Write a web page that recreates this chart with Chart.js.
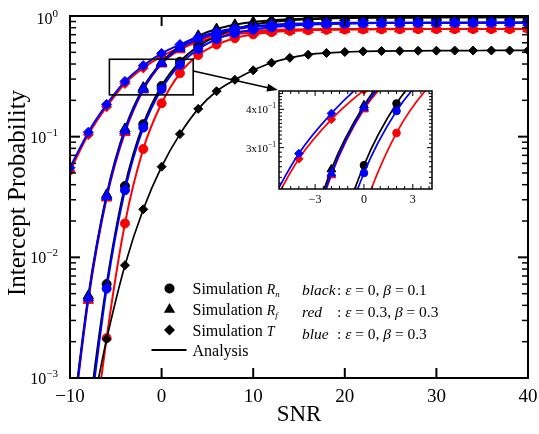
<!DOCTYPE html>
<html>
<head>
<meta charset="utf-8">
<script src="https://cdn.jsdelivr.net/npm/chart.js@4.4.1/dist/chart.umd.min.js"></script>
<style>
  html, body { margin: 0; padding: 0; background: #fff; }
  #wrap { position: relative; width: 539px; height: 434px; }
  #wrap canvas { position: absolute; left: 0; top: 0; }
</style>
</head>
<body>
<div id="wrap">
  <canvas id="main" width="539" height="434"></canvas>
  <canvas id="inset" width="539" height="434"></canvas>
</div>
<script>
// SNR grid (dB)
const snr = [-10, -8, -6, -4, -2, 0, 2, 4, 6, 8, 10, 12, 14, 16, 18, 20, 22, 24, 26, 28, 30, 32, 34, 36, 38, 40];

// Intercept probability of R_n (circles)
const blackRn = [0.00002, 0.00045, 0.0060, 0.039, 0.127, 0.263, 0.418, 0.56, 0.685, 0.78, 0.845, 0.89, 0.92, 0.94, 0.953, 0.962, 0.967, 0.97, 0.972, 0.973, 0.974, 0.975, 0.975, 0.976, 0.976, 0.976];
const redRn   = [0.000005, 0.00013, 0.00214, 0.0191, 0.079, 0.189, 0.335, 0.475, 0.58, 0.655, 0.705, 0.735, 0.752, 0.762, 0.768, 0.772, 0.775, 0.777, 0.778, 0.779, 0.78, 0.78, 0.781, 0.781, 0.781, 0.782];
const blueRn  = [0.00002, 0.00037, 0.0055, 0.036, 0.119, 0.248, 0.395, 0.53, 0.645, 0.72, 0.77, 0.805, 0.83, 0.846, 0.857, 0.864, 0.869, 0.873, 0.875, 0.877, 0.878, 0.879, 0.88, 0.88, 0.881, 0.881];

// Intercept probability of R_f (triangles)
const blackRf = [0.0003, 0.0048, 0.033, 0.116, 0.255, 0.412, 0.56, 0.685, 0.78, 0.845, 0.89, 0.92, 0.94, 0.953, 0.962, 0.967, 0.97, 0.972, 0.973, 0.974, 0.975, 0.975, 0.976, 0.976, 0.976, 0.976];
const redRf   = [0.00027, 0.0044, 0.031, 0.108, 0.244, 0.40, 0.525, 0.61, 0.665, 0.705, 0.73, 0.748, 0.76, 0.767, 0.772, 0.775, 0.777, 0.779, 0.78, 0.78, 0.781, 0.781, 0.782, 0.782, 0.782, 0.782];
const blueRf  = [0.00028, 0.0046, 0.032, 0.112, 0.247, 0.405, 0.54, 0.645, 0.72, 0.775, 0.81, 0.835, 0.851, 0.861, 0.868, 0.872, 0.875, 0.877, 0.878, 0.879, 0.88, 0.88, 0.881, 0.881, 0.881, 0.881];

// Intercept probability of T (diamonds)
const blackT = [0.00015, 0.0004, 0.0021, 0.0086, 0.025, 0.0564, 0.105, 0.17, 0.238, 0.296, 0.355, 0.41, 0.45, 0.478, 0.494, 0.503, 0.509, 0.512, 0.514, 0.515, 0.516, 0.517, 0.517, 0.518, 0.518, 0.518];
const redT   = [0.052, 0.104, 0.177, 0.276, 0.371, 0.462, 0.55, 0.63, 0.695, 0.735, 0.756, 0.767, 0.773, 0.777, 0.779, 0.78, 0.781, 0.781, 0.782, 0.782, 0.782, 0.782, 0.782, 0.782, 0.782, 0.782];
const blueT  = [0.0553, 0.109, 0.185, 0.287, 0.388, 0.49, 0.58, 0.666, 0.738, 0.79, 0.825, 0.848, 0.862, 0.87, 0.875, 0.878, 0.879, 0.88, 0.88, 0.881, 0.881, 0.881, 0.881, 0.882, 0.882, 0.882];

// Axis ticks
const xTicks = [-10, 0, 10, 20, 30, 40];
const yExponents = [-3, -2, -1, 0];
const insetXTicks = [-3, 0, 3];
const insetYTicks = [0.3, 0.4];
const insetYLabels = ['3x10', '4x10'];

// Legend texts
const simLabels = [['Simulation ', 'R', 'n', 'circle'], ['Simulation ', 'R', 'f', 'triangle'], ['Simulation ', 'T', '', 'rectRot']];
const paramLabels = [
  ['black', ': ', 'ε', ' = 0, ', 'β', ' = 0.1'],
  ['red', ': ', 'ε', ' = 0.3, ', 'β', ' = 0.3'],
  ['blue', ': ', 'ε', ' = 0, ', 'β', ' = 0.3']
];

const BLACK = '#000000', RED = '#ff0000', BLUE = '#0000ff';
const SERIF = '"Liberation Serif", "Times New Roman", serif';
const font = (size, italic) => (italic ? 'italic ' : '') + size + 'px ' + SERIF;

function lineSet(values, color, style, radius, width) {
  return {
    data: snr.map((x, i) => ({ x, y: values[i] })),
    borderColor: color,
    backgroundColor: color,
    pointStyle: style,
    pointRadius: radius,
    pointHoverRadius: radius,
    pointBorderWidth: 1,
    borderWidth: width,
    cubicInterpolationMode: 'monotone',
    fill: false
  };
}

function buildSets(scale) {
  const c = 4.5 * scale, t = 6 * scale, d = 5 * scale, w = 2 * scale;
  // earlier entries are painted on top
  return [
    lineSet(blueT, BLUE, 'rectRot', d, w),
    lineSet(blueRf, BLUE, 'triangle', t, w),
    lineSet(blueRn, BLUE, 'circle', c, w),
    lineSet(blackRf, BLACK, 'triangle', t, w),
    lineSet(blackRn, BLACK, 'circle', c, w),
    lineSet(blackT, BLACK, 'rectRot', d * 0.9, w * 0.85),
    lineSet(redT, RED, 'rectRot', d, w),
    lineSet(redRf, RED, 'triangle', t, w),
    lineSet(redRn, RED, 'circle', c, w)
  ];
}

function seg(ctx, x1, y1, x2, y2) {
  ctx.beginPath(); ctx.moveTo(x1, y1); ctx.lineTo(x2, y2); ctx.stroke();
}

function runs(ctx, parts, x, y) {
  for (const [t, s, it, dy] of parts) {
    ctx.font = font(s, it);
    ctx.fillText(t, x, y + (dy || 0));
    x += ctx.measureText(t).width;
  }
  return x;
}
function runsWidth(ctx, parts) {
  let w = 0;
  for (const [t, s, it] of parts) { ctx.font = font(s, it); w += ctx.measureText(t).width; }
  return w;
}

function marker(ctx, style, x, y, r) {
  ctx.beginPath();
  if (style === 'circle') {
    ctx.arc(x, y, r, 0, Math.PI * 2);
  } else if (style === 'triangle') {
    for (let k = 0; k < 3; k++) {
      const a = k * 2 * Math.PI / 3;
      const px = x + Math.sin(a) * r, py = y - Math.cos(a) * r;
      k ? ctx.lineTo(px, py) : ctx.moveTo(px, py);
    }
    ctx.closePath();
  } else {
    ctx.moveTo(x, y - r); ctx.lineTo(x + r, y); ctx.lineTo(x, y + r); ctx.lineTo(x - r, y); ctx.closePath();
  }
  ctx.fill();
}

const mainDecor = {
  id: 'mainDecor',
  afterDraw(chart) {
    const { ctx, chartArea: a, scales: { x, y } } = chart;
    ctx.save();
    ctx.strokeStyle = '#000'; ctx.fillStyle = '#000';

    // zoom window and pointer to the inset
    const bx1 = x.getPixelForValue(-5.7), bx2 = x.getPixelForValue(3.45);
    const by1 = y.getPixelForValue(0.438), by2 = y.getPixelForValue(0.222);
    ctx.lineWidth = 1.6;
    ctx.strokeRect(bx1, by1, bx2 - bx1, by2 - by1);
    const sx = bx2, sy = y.getPixelForValue(0.35), ex = 278, ey = 90;
    const ang = Math.atan2(ey - sy, ex - sx);
    seg(ctx, sx, sy, ex - Math.cos(ang) * 8, ey - Math.sin(ang) * 8);
    ctx.beginPath();
    ctx.moveTo(ex, ey);
    ctx.lineTo(ex - Math.cos(ang) * 11 - Math.sin(ang) * 4, ey - Math.sin(ang) * 11 + Math.cos(ang) * 4);
    ctx.lineTo(ex - Math.cos(ang) * 11 + Math.sin(ang) * 4, ey - Math.sin(ang) * 11 - Math.cos(ang) * 4);
    ctx.closePath(); ctx.fill();

    // frame
    ctx.lineWidth = 2;
    ctx.strokeRect(a.left, a.top, a.right - a.left, a.bottom - a.top);

    // x ticks (inward, bottom and top)
    ctx.lineWidth = 2;
    xTicks.forEach(v => {
      const px = x.getPixelForValue(v);
      seg(ctx, px, a.bottom, px, a.bottom - 10);
      seg(ctx, px, a.top, px, a.top + 10);
    });
    // y ticks (decades and minor)
    yExponents.forEach(e => {
      const d = Math.pow(10, e);
      const py = y.getPixelForValue(d);
      ctx.lineWidth = 2;
      seg(ctx, a.left, py, a.left + 10, py);
      seg(ctx, a.right, py, a.right - 10, py);
      if (e < 0) {
        ctx.lineWidth = 1.5;
        for (let m = 2; m <= 9; m++) {
          const pm = y.getPixelForValue(m * d);
          seg(ctx, a.left, pm, a.left + 6, pm);
          seg(ctx, a.right, pm, a.right - 6, pm);
        }
      }
    });

    // x tick labels
    ctx.textAlign = 'center'; ctx.textBaseline = 'middle';
    ctx.font = font(19, false);
    xTicks.forEach(v => {
      ctx.fillText(String(v).replace('-', '\u2212'), x.getPixelForValue(v), a.bottom + 19);
    });

    // y tick labels 10^e
    ctx.textAlign = 'left'; ctx.textBaseline = 'alphabetic';
    yExponents.forEach(e => {
      const parts = [['10', 16, false, 0], [String(e).replace('-', '\u2212'), 11, false, -7]];
      const w = runsWidth(ctx, parts);
      const py = y.getPixelForValue(Math.pow(10, e));
      runs(ctx, parts, 58 - w, py + 6 + (e === 0 ? 2 : 0));
    });

    // axis titles
    ctx.textAlign = 'center'; ctx.textBaseline = 'middle';
    ctx.font = font(23, false);
    ctx.fillText('SNR', (a.left + a.right) / 2, 415);
    ctx.save();
    ctx.translate(18.5, 193);
    ctx.rotate(-Math.PI / 2);
    ctx.font = font(25, false);
    ctx.fillText('Intercept Probability', 0, 0);
    ctx.restore();

    // legend: markers and analysis line
    ctx.textAlign = 'left'; ctx.textBaseline = 'alphabetic';
    const rows = [288.5, 309.5, 330];
    simLabels.forEach((lab, i) => {
      const r = lab[3] === 'circle' ? 5 : (lab[3] === 'triangle' ? 6.5 : 5.5);
      marker(ctx, lab[3], 169.5, rows[i], r);
      const parts = [[lab[0], 16, false, 0], [lab[1], 14, true, 0]];
      if (lab[2]) parts.push([lab[2], 9, true, 3]);
      runs(ctx, parts, 192.5, rows[i] + 5.5);
    });
    ctx.lineWidth = 2;
    seg(ctx, 151.5, 350, 186.5, 350);
    runs(ctx, [['Analysis', 16, false, 0]], 192.5, 355.5);

    const prow = [289.5, 311.5, 333.5];
    paramLabels.forEach((p, i) => {
      runs(ctx, [[p[0], 15.5, true, 0]], 302, prow[i] + 5.5);
      runs(ctx, [[p[1], 15.5, false, 0], [p[2], 15.5, true, 0], [p[3], 15.5, false, 0], [p[4], 15.5, true, 0], [p[5], 15.5, false, 0]], 337, prow[i] + 5.5);
    });
    ctx.restore();
  }
};

const insetDecor = {
  id: 'insetDecor',
  beforeDatasetsDraw(chart) {
    const { ctx, chartArea: a } = chart;
    ctx.save();
    ctx.fillStyle = '#fff';
    ctx.fillRect(a.left, a.top, a.right - a.left, a.bottom - a.top);
    ctx.restore();
  },
  afterDraw(chart) {
    const { ctx, chartArea: a, scales: { x, y } } = chart;
    ctx.save();
    ctx.strokeStyle = '#000'; ctx.fillStyle = '#000';
    ctx.lineWidth = 1.5;
    ctx.strokeRect(a.left, a.top, a.right - a.left, a.bottom - a.top);

    ctx.lineWidth = 1;
    for (let v = -5; v <= 4; v += 0.5) {
      const px = x.getPixelForValue(v);
      const len = insetXTicks.includes(v) ? 5 : 3;
      seg(ctx, px, a.bottom, px, a.bottom - len);
      seg(ctx, px, a.top, px, a.top + len);
    }
    for (let k = 23; k <= 45; k++) {
      const v = k / 100;
      const py = y.getPixelForValue(v);
      const len = (k % 10 === 0) ? 5 : 3;
      seg(ctx, a.left, py, a.left + len, py);
      seg(ctx, a.right, py, a.right - len, py);
    }

    ctx.textAlign = 'center'; ctx.textBaseline = 'middle';
    ctx.font = font(12, false);
    insetXTicks.forEach(v => {
      ctx.fillText(String(v).replace('-', '\u2212'), x.getPixelForValue(v), a.bottom + 11);
    });
    ctx.textAlign = 'left'; ctx.textBaseline = 'alphabetic';
    insetYTicks.forEach((v, i) => {
      const parts = [[insetYLabels[i], 11, false, 0], ['\u22121', 7.5, false, -5]];
      const w = runsWidth(ctx, parts);
      runs(ctx, parts, a.left - 3 - w, y.getPixelForValue(v) + 4);
    });
    ctx.restore();
  }
};

const common = {
  responsive: false,
  animation: false,
  events: [],
  plugins: { legend: { display: false }, tooltip: { enabled: false } }
};

new Chart(document.getElementById('main'), {
  type: 'line',
  data: { datasets: buildSets(1) },
  options: Object.assign({}, common, {
    layout: { padding: { left: 70, right: 11, top: 16, bottom: 56 } },
    scales: {
      x: { type: 'linear', min: -10, max: 40, display: false },
      y: { type: 'logarithmic', min: 0.001, max: 1, display: false }
    }
  }),
  plugins: [mainDecor]
});

new Chart(document.getElementById('inset'), {
  type: 'line',
  data: { datasets: buildSets(0.85) },
  options: Object.assign({}, common, {
    layout: { padding: { left: 279, right: 107, top: 91, bottom: 245 } },
    scales: {
      x: { type: 'linear', min: -5.22, max: 4.18, display: false },
      y: { type: 'logarithmic', min: 0.221, max: 0.459, display: false }
    }
  }),
  plugins: [insetDecor]
});
</script>
</body>
</html>
